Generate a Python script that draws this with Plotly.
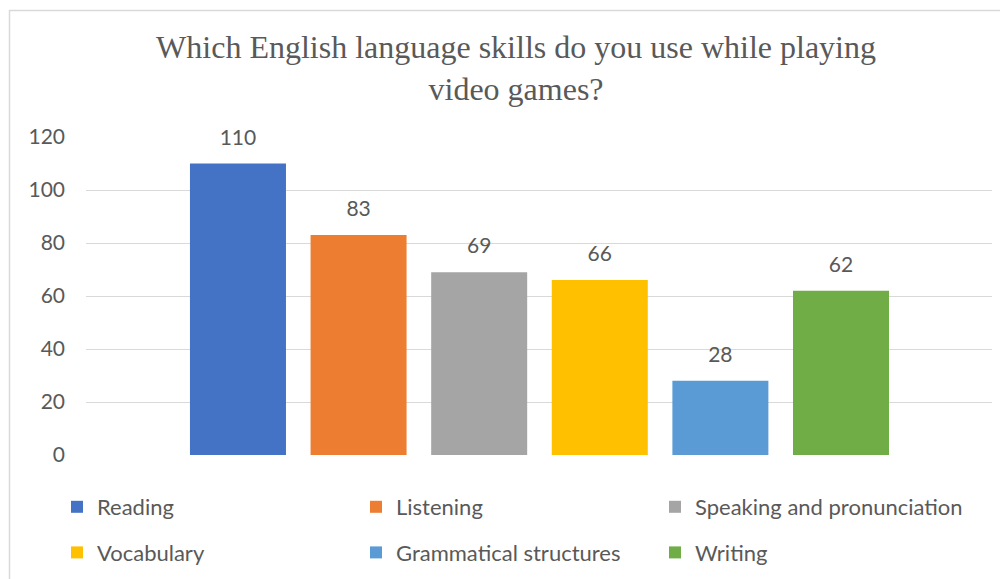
import plotly.graph_objects as go

skills = ["Reading", "Listening", "Speaking and pronunciation",
          "Vocabulary", "Grammatical structures", "Writing"]
values = [110, 83, 69, 66, 28, 62]
colors = ["#4472C4", "#ED7D31", "#A5A5A5", "#FFC000", "#5B9BD5", "#70AD47"]
legend_ids = ["legend", "legend2", "legend3", "legend", "legend2", "legend3"]
y_ticks = [0, 20, 40, 60, 80, 100, 120]

title_text = "Which English language skills do you use while playing<br>video games?"

TXT = "#595959"
FONT = "Lato"

fig = go.Figure()
for s, v, c, lg in zip(skills, values, colors, legend_ids):
    fig.add_trace(go.Bar(
        x=[s], y=[v], name=s, marker=dict(color=c, line=dict(width=0)),
        width=0.796, legend=lg, legendgroup=s, hoverinfo="x+y",
    ))

fig.add_trace(go.Scatter(
    x=skills, y=values, mode="markers+text", text=[str(v) for v in values],
    textposition="top center", textfont=dict(family=FONT, size=21, color=TXT),
    marker=dict(size=20, opacity=0), showlegend=False, hoverinfo="skip",
    cliponaxis=False,
))

leg_common = dict(
    orientation="v", xanchor="left", yanchor="top", traceorder="grouped",
    tracegroupgap=14, font=dict(family=FONT, size=22, color=TXT),
    bgcolor="rgba(0,0,0,0)", itemwidth=30,
)
pw = 906.0
def lx(px):
    return (px - 86) / pw
def ly(py):
    return (455 - py) / 318.0

fig.update_layout(
    width=1008, height=579,
    margin=dict(l=78, r=24, t=129, b=132, autoexpand=False),
    paper_bgcolor="white", plot_bgcolor="white",
    barmode="overlay",
    title=dict(text=title_text, x=0.504, xref="container", xanchor="center",
               y=1 - 50 / 579, yref="container", yanchor="top",
               font=dict(family="Liberation Serif", size=32, color=TXT)),
    xaxis=dict(type="category", range=[-1.260, 6.252], showticklabels=False,
               showgrid=False, zeroline=False, showline=False, ticks=""),
    yaxis=dict(range=[0, 120], tickvals=y_ticks, showgrid=True,
               gridcolor="#D9D9D9", gridwidth=1.3, zeroline=False,
               showline=False, ticks="", ticklabelstandoff=20,
               tickfont=dict(family=FONT, size=21, color=TXT)),
    legend=dict(x=lx(57), y=ly(486), **leg_common),
    legend2=dict(x=lx(356), y=ly(486), **leg_common),
    legend3=dict(x=lx(655), y=ly(486), **leg_common),
    shapes=[dict(type="rect", xref="paper", yref="paper",
                 x0=lx(9.5), x1=lx(1030), y0=ly(620), y1=ly(10.5),
                 line=dict(color="#D9D9D9", width=1.5), fillcolor="rgba(0,0,0,0)",
                 layer="below")],
    showlegend=True,
)

fig.write_html("out.html")
